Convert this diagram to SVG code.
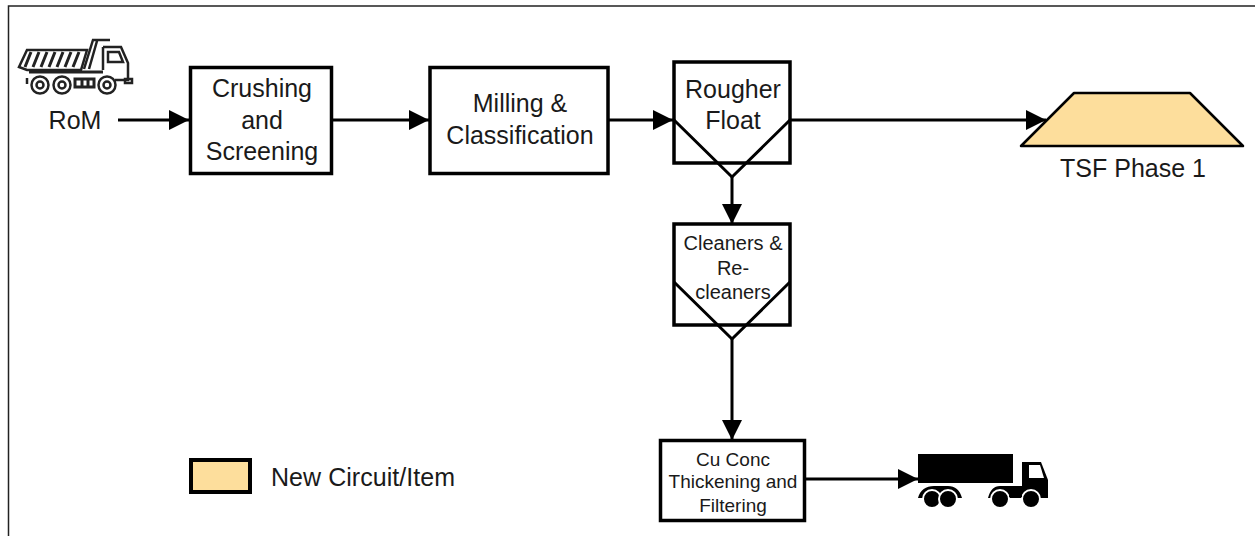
<svg xmlns="http://www.w3.org/2000/svg" width="1255" height="536" viewBox="0 0 1255 536">
<style>
text{font-family:"Liberation Sans",Arial,sans-serif;fill:#1a1a1a;text-anchor:middle}
.b{fill:#fff;stroke:#000;stroke-width:3.500}
.t{fill:none;stroke:#000;stroke-width:3}
.c{fill:none;stroke:#000;stroke-width:3}
.y{fill:#fdde9c}
.f25{font-size:25px}.f20{font-size:20px}.f19{font-size:19px}
</style>
<defs>
<marker id="a" markerUnits="userSpaceOnUse" markerWidth="22" markerHeight="22" refX="20" refY="11" orient="auto"><path d="M0 1L20 11L0 21Z" fill="#000"/></marker>
</defs>
<rect x="8.500" y="6" width="1260" height="540" fill="#fff" stroke="#222" stroke-width="1.500"/>
<g id="connectors">
<path class="c" d="M118 120H189" marker-end="url(#a)"/>
<path class="c" d="M332 120H429" marker-end="url(#a)"/>
<path class="c" d="M608 120H673" marker-end="url(#a)"/>
<path class="c" d="M790 120H1046" marker-end="url(#a)"/>
<path class="c" d="M732 177V224" marker-end="url(#a)"/>
<path class="c" d="M732 339V440" marker-end="url(#a)"/>
<path class="c" d="M805 479H918" marker-end="url(#a)"/>
</g>
<g id="rom"><g fill="none" stroke="#222" stroke-width="2.500">
<path d="M19 67L27 50H87L81 70H27Z"/><path stroke-width="3" d="M31 52L25 67M39 52L33 67M47 52L41 67M55 52L49 67M63 52L57 67M71 52L65 67M79 52L73 67"/>
<path d="M84 69L93 40H110M97 41L89 69"/><path d="M103 47H121L128 63V80H115M103 47V70M108 52V62H123L119 52Z"/>
<path stroke-width="3" d="M29 72H103M75 79H94V87H75ZM82 79V87M88 79V87"/><path d="M125 79H132V83H125Z"/>
<circle cx="40" cy="85" r="8.500"/><circle cx="62" cy="85" r="8.500"/><circle cx="107" cy="85" r="8.500"/>
<circle cx="40" cy="85" r="3.500"/><circle cx="62" cy="85" r="3.500"/><circle cx="107" cy="85" r="3.500"/><path d="M27 78V84"/></g>
<text class="f25" x="75" y="129">RoM</text></g>
<g id="crushing"><rect class="b" x="190.500" y="67.500" width="141" height="106"/><text class="f25"><tspan x="262" y="97">Crushing</tspan><tspan x="262" y="129">and</tspan><tspan x="262" y="160">Screening</tspan></text></g>
<g id="milling"><rect class="b" x="430" y="67.500" width="178" height="106"/><text class="f25"><tspan x="520" y="112">Milling &amp;</tspan><tspan x="520" y="144">Classification</tspan></text></g>
<g id="rougher"><rect class="b" x="674" y="62" width="116" height="101"/><path class="t" d="M674 120L732 177L790 120"/><text class="f25"><tspan x="733" y="98">Rougher</tspan><tspan x="733" y="129">Float</tspan></text></g>
<g id="cleaners"><rect class="b" x="674" y="224" width="116" height="101"/><path class="t" d="M674 282L732 339L790 282"/><text class="f20"><tspan x="733" y="250">Cleaners &amp;</tspan><tspan x="733" y="275">Re-</tspan><tspan x="733" y="299">cleaners</tspan></text></g>
<g id="tsf"><path class="y" stroke="#000" stroke-width="2.500" stroke-linejoin="round" d="M1021 146L1074 93H1190L1243 146Z"/><text class="f25" x="1133" y="177">TSF Phase 1</text></g>
<g id="thickening"><rect class="b" x="660.500" y="440.500" width="144" height="80"/><text class="f19"><tspan x="733" y="466">Cu Conc</tspan><tspan x="733" y="488">Thickening and</tspan><tspan x="733" y="512">Filtering</tspan></text></g>
<g id="truck"><rect x="918" y="454" width="95" height="29"/>
<path d="M1022 462H1041L1048 480V498H1022Z"/><path d="M1029 465H1040L1044 478H1029Z" fill="#fff"/>
<path d="M918 498C920 490 926 486 934 486H948C955 486 960 490 962 498ZM988 498C990 490 994 486 1000 486H1030V498Z"/>
<g fill="#000" stroke="#fff" stroke-width="2"><circle cx="932" cy="499" r="9"/><circle cx="948" cy="499" r="9"/><circle cx="1000" cy="499" r="9"/><circle cx="1031" cy="499" r="9"/></g><path d="M1009 497H1022V494H1009Z"/></g>
<g id="legend"><rect class="y" stroke="#000" stroke-width="4" x="191" y="460" width="59" height="32"/><text class="f25" style="text-anchor:start" x="271" y="486" textLength="184" lengthAdjust="spacing">New Circuit/Item</text></g>
</svg>
